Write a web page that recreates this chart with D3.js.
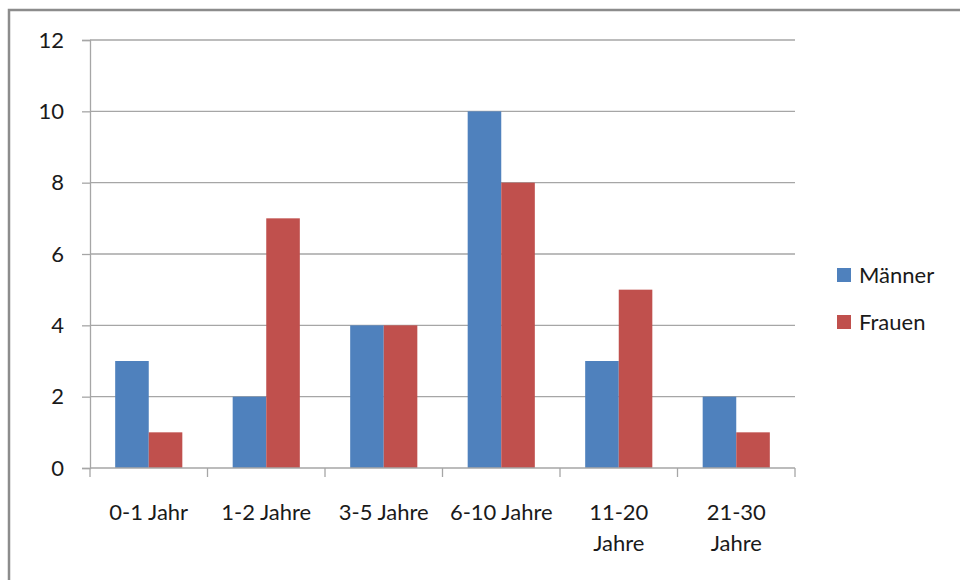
<!DOCTYPE html>
<html>
<head>
<meta charset="utf-8">
<script src="https://cdn.jsdelivr.net/npm/d3@7"></script>
<style>
  body { margin: 0; background: #fff; }
  svg text { font-family: Lato, "Open Sans", sans-serif; fill: #1a1a1a; }
</style>
</head>
<body>
<svg id="chart" width="960" height="580"></svg>
<script>
// === Data ===
const categories = ['0-1 Jahr', '1-2 Jahre', '3-5 Jahre', '6-10 Jahre', '11-20 Jahre', '21-30 Jahre'];
const categoryLines = [['0-1 Jahr'], ['1-2 Jahre'], ['3-5 Jahre'], ['6-10 Jahre'], ['11-20', 'Jahre'], ['21-30', 'Jahre']];
const seriesNames = ['Männer', 'Frauen'];
const maenner = [3, 2, 4, 10, 3, 2];
const frauen = [1, 7, 4, 8, 5, 1];
const yTicks = [0, 2, 4, 6, 8, 10, 12];
const colors = ['#4f81bd', '#c0504d'];

(function () {
    const svg = d3.select('#chart');

    // outer chart border (runs off right/bottom edge)
    svg.append('rect')
        .attr('x', 9).attr('y', 10)
        .attr('width', 1000).attr('height', 1000)
        .attr('fill', 'none')
        .attr('stroke', '#8c8c8c')
        .attr('stroke-width', 2.5);

    const plotL = 90, plotR = 795, plotT = 40, plotB = 468;

    const x = d3.scaleBand().domain(categories).range([plotL, plotR]);
    const xSub = d3.scaleBand().domain(seriesNames).range([0, x.bandwidth()]).paddingInner(0).paddingOuter(0.75);
    const y = d3.scaleLinear().domain([0, 12]).range([plotB, plotT]);

    // gridlines
    svg.append('g')
        .selectAll('line')
        .data(yTicks.filter(d => d > 0))
        .join('line')
        .attr('x1', plotL).attr('x2', plotR)
        .attr('y1', d => y(d)).attr('y2', d => y(d))
        .attr('stroke', '#a6a6a6')
        .attr('stroke-width', 1.3);

    // bars
    const series = [maenner, frauen];
    const groups = svg.append('g')
        .selectAll('g')
        .data(categories)
        .join('g')
        .attr('transform', d => `translate(${x(d)},0)`);

    groups.selectAll('rect')
        .data((d, i) => seriesNames.map((s, j) => ({ s, v: series[j][i], j })))
        .join('rect')
        .attr('x', d => xSub(d.s))
        .attr('width', xSub.bandwidth())
        .attr('y', d => y(d.v))
        .attr('height', d => y(0) - y(d.v))
        .attr('fill', d => colors[d.j]);

    // y axis
    const yAxis = svg.append('g')
        .attr('transform', `translate(${plotL},0)`)
        .call(d3.axisLeft(y).tickValues(yTicks).tickSize(8).tickPadding(18));
    yAxis.select('.domain').attr('stroke', '#a6a6a6').attr('stroke-width', 1.3);
    yAxis.selectAll('.tick line').attr('stroke', '#a6a6a6').attr('stroke-width', 1.3);
    yAxis.selectAll('.tick text').attr('font-size', 22).attr('fill', '#1a1a1a')
        .style('font-family', 'Lato, sans-serif');

    // x axis line + boundary ticks
    svg.append('line')
        .attr('x1', plotL).attr('x2', plotR)
        .attr('y1', plotB).attr('y2', plotB)
        .attr('stroke', '#a6a6a6').attr('stroke-width', 1.3);

    const bounds = categories.map(c => x(c)).concat([plotR]);
    svg.append('g')
        .selectAll('line')
        .data(bounds)
        .join('line')
        .attr('x1', d => d).attr('x2', d => d)
        .attr('y1', plotB).attr('y2', plotB + 9)
        .attr('stroke', '#a6a6a6').attr('stroke-width', 1.3);

    // x labels
    const xl = svg.append('g')
        .selectAll('text')
        .data(categories)
        .join('text')
        .attr('x', d => x(d) + x.bandwidth() / 2)
        .attr('y', 520)
        .attr('text-anchor', 'middle')
        .attr('font-size', 22);
    xl.each(function (d, i) {
        const t = d3.select(this);
        categoryLines[i].forEach((line, k) => {
            t.append('tspan')
                .attr('x', x(d) + x.bandwidth() / 2)
                .attr('dy', k === 0 ? 0 : 31)
                .text(line);
        });
    });

    // legend
    const legend = svg.append('g')
        .selectAll('g')
        .data(seriesNames)
        .join('g')
        .attr('transform', (d, i) => `translate(837,${268 + i * 47})`);
    legend.append('rect')
        .attr('width', 14).attr('height', 14)
        .attr('fill', (d, i) => colors[i]);
    legend.append('text')
        .attr('x', 22).attr('y', 15)
        .attr('font-size', 22)
        .text(d => d);
})();
</script>
</body>
</html>
